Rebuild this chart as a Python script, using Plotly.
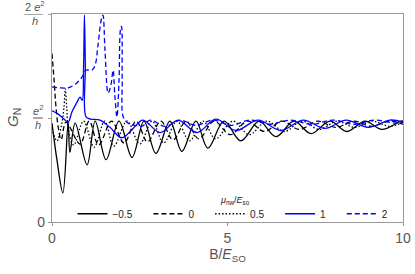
import plotly.graph_objects as go

# ---- data ----
mu_labels = ["\u22120.5", "0", "0.5", "1", "2"]

B_m05 = [0, 0.14, 0.31, 0.46, 0.51, 0.66, 1.00, 1.23, 1.54, 1.91, 2.28, 2.62, 2.96, 3.36, 3.70,
         4.10, 4.44, 4.90, 5.38, 5.90, 6.38, 6.89, 7.38, 7.92, 8.40, 8.92, 9.40, 9.94, 10]
G_m05 = [0.95, 0.60, 0.28, 0.96, 0.67, 0.95, 0.55, 0.97, 0.60, 0.97, 0.62, 0.97, 0.66, 0.97, 0.68,
         0.97, 0.71, 0.97, 0.78, 0.97, 0.82, 0.97, 0.85, 0.97, 0.87, 0.97, 0.89, 0.97, 0.97]

B_0 = [0, 0.06, 0.11, 0.17, 0.26, 0.40, 0.80, 1.06, 1.33, 1.70, 2.05, 2.40, 2.72, 3.10, 3.45, 3.82,
       4.18, 4.62, 5.08, 5.57, 6.05, 6.55, 7.05, 7.57, 8.08, 8.60, 9.10, 9.62, 10]
G_0 = [1.62, 1.36, 1.12, 0.93, 0.79, 0.96, 0.75, 0.97, 0.74, 0.97, 0.76, 0.97, 0.77, 0.97, 0.79, 0.97,
       0.80, 0.97, 0.84, 0.97, 0.87, 0.97, 0.89, 0.97, 0.91, 0.97, 0.92, 0.97, 0.94]

B_05 = [0, 0.14, 0.27, 0.34, 0.38, 0.42, 0.47, 0.62, 0.90, 1.20, 1.50, 1.76, 2.14, 2.50, 2.85, 3.18,
        3.56, 3.92, 4.30, 4.66, 5.15, 5.62, 6.12, 6.62, 7.12, 7.62, 8.12, 8.62, 9.12, 9.62, 10]
G_05 = [0.90, 0.78, 0.93, 1.10, 1.28, 1.10, 0.88, 0.74, 0.97, 0.72, 0.97, 0.73, 0.97, 0.75, 0.97, 0.76,
        0.97, 0.78, 0.97, 0.80, 0.97, 0.84, 0.97, 0.87, 0.97, 0.89, 0.97, 0.91, 0.97, 0.92, 0.96]

B_1 = [0, 0.17, 0.34, 0.46, 0.57, 0.71, 0.80, 0.86, 0.90, 0.925, 0.95, 0.97, 1.10, 1.37, 1.65, 1.99,
       2.31, 2.59, 3.08, 3.59, 4.13, 4.67, 5.24, 5.87, 6.52, 7.15, 7.78, 8.38, 9.01, 9.63, 10]
G_1 = [1.07, 1.04, 0.99, 0.96, 1.06, 1.15, 1.20, 1.17, 1.50, 1.99, 1.50, 1.01, 0.99, 0.98, 0.91, 0.81,
       0.90, 0.98, 0.86, 0.98, 0.86, 0.99, 0.88, 0.98, 0.88, 0.98, 0.90, 0.98, 0.91, 0.98, 0.96]

B_2 = [0, 0.23, 0.46, 0.68, 0.85, 0.97, 1.14, 1.23, 1.31, 1.40, 1.45, 1.51, 1.60, 1.68, 1.74, 1.79,
       1.85, 1.91, 1.95, 1.98, 2.00, 2.03, 2.17, 2.36, 2.56, 2.80, 3.22, 3.65, 4.10, 4.60, 5.10, 5.65,
       6.20, 6.80, 7.40, 8.00, 8.60, 9.20, 9.80, 10]
G_2 = [1.30, 1.29, 1.29, 1.33, 1.39, 1.46, 1.46, 1.51, 1.70, 1.94, 1.99, 1.65, 1.24, 1.32, 1.46, 1.22,
       1.01, 1.37, 1.85, 1.88, 1.37, 1.01, 0.95, 0.93, 0.92, 0.98, 0.92, 0.98, 0.93, 0.98, 0.93, 0.98,
       0.94, 0.98, 0.94, 0.98, 0.94, 0.98, 0.95, 0.96]

series = [
    (B_m05, G_m05, "#000000", "solid"),
    (B_0, G_0, "#000000", "5px,3px"),
    (B_05, G_05, "#000000", "1.5px,2px"),
    (B_1, G_1, "#0000FF", "solid"),
    (B_2, G_2, "#0000FF", "5px,3px"),
]

pad = "\u00a0\u00a0\u00a0\u00a0"
fig = go.Figure()
for (bx, gy, col, dash), lab in zip(series, mu_labels):
    fig.add_trace(go.Scatter(
        x=bx, y=gy, mode="lines", name=lab + pad,
        line=dict(color=col, width=1.3, dash=dash, shape="spline", smoothing=1.0),
    ))

grey = "#555555"
fig.update_layout(
    width=415, height=274,
    margin=dict(l=52, r=12, t=14, b=52, autoexpand=False),
    paper_bgcolor="white", plot_bgcolor="white",
    font=dict(family="Liberation Sans, Arial, sans-serif", color=grey, size=13),
    showlegend=True,
    legend=dict(
        orientation="h", x=0.53, xanchor="center", y=-0.03, yanchor="bottom",
        bgcolor="rgba(0,0,0,0)", font=dict(size=10, color="#222222"),
        tracegroupgap=0, itemwidth=30,
    ),
    xaxis=dict(
        range=[0, 10], tickvals=[0, 5, 10], ticktext=["0", "5", "10"],
        showline=True, linecolor="#999999", linewidth=1.2, mirror=True,
        ticks="outside", ticklen=3, tickcolor="#999999", automargin=False,
        showgrid=False, zeroline=False, tickfont=dict(size=14, color=grey),
        title=dict(text="B/<i>E</i><sub>SO</sub>", font=dict(size=14, color=grey), standoff=4),
    ),
    yaxis=dict(
        range=[0, 2], tickvals=[0, 1, 2], ticktext=["0", " ", " "],
        showline=True, linecolor="#999999", linewidth=1.2, mirror=True,
        ticks="outside", ticklen=3, tickcolor="#999999", automargin=False,
        showgrid=False, zeroline=False, tickfont=dict(size=14, color=grey),
    ),
)

# legend heading
fig.add_annotation(x=0.52, y=0.105, xref="paper", yref="paper",
                   text="<i>\u03bc</i><sub>nw</sub>/<i>E</i><sub>so</sub>",
                   showarrow=False, xanchor="center", yanchor="middle",
                   font=dict(size=9, color="#222222"))

# fraction-style tick labels for 1 and 2 (in units of e^2/h)
frac_font = dict(size=11, color=grey, family="Liberation Sans, Arial, sans-serif")
for yv, num, xs, bar in [(2, "2 <i>e</i><sup>2</sup>", -17, (-0.080, -0.026)),
                         (1, "<i>e</i><sup>2</sup>", -14, (-0.054, -0.026))]:
    fig.add_annotation(x=0, y=yv, xref="paper", yref="y", text=num, showarrow=False,
                       xanchor="center", yanchor="bottom", xshift=xs, yshift=-1, font=frac_font)
    fig.add_annotation(x=0, y=yv, xref="paper", yref="y", text="<i>h</i>", showarrow=False,
                       xanchor="center", yanchor="top", xshift=xs, yshift=1, font=frac_font)
    fig.add_shape(type="line", xref="paper", yref="y", x0=bar[0], x1=bar[1], y0=yv, y1=yv,
                  line=dict(color=grey, width=1))

# y-axis title
fig.add_annotation(x=0, y=1.0, xref="paper", yref="y", text="<i>G</i><sub>N</sub>",
                   showarrow=False, textangle=-90, xanchor="center", yanchor="middle",
                   xshift=-39, font=dict(size=15, color=grey))

fig.write_html("out.html", config={"displayModeBar": False},
               post_script="document.body.style.margin='0';")
